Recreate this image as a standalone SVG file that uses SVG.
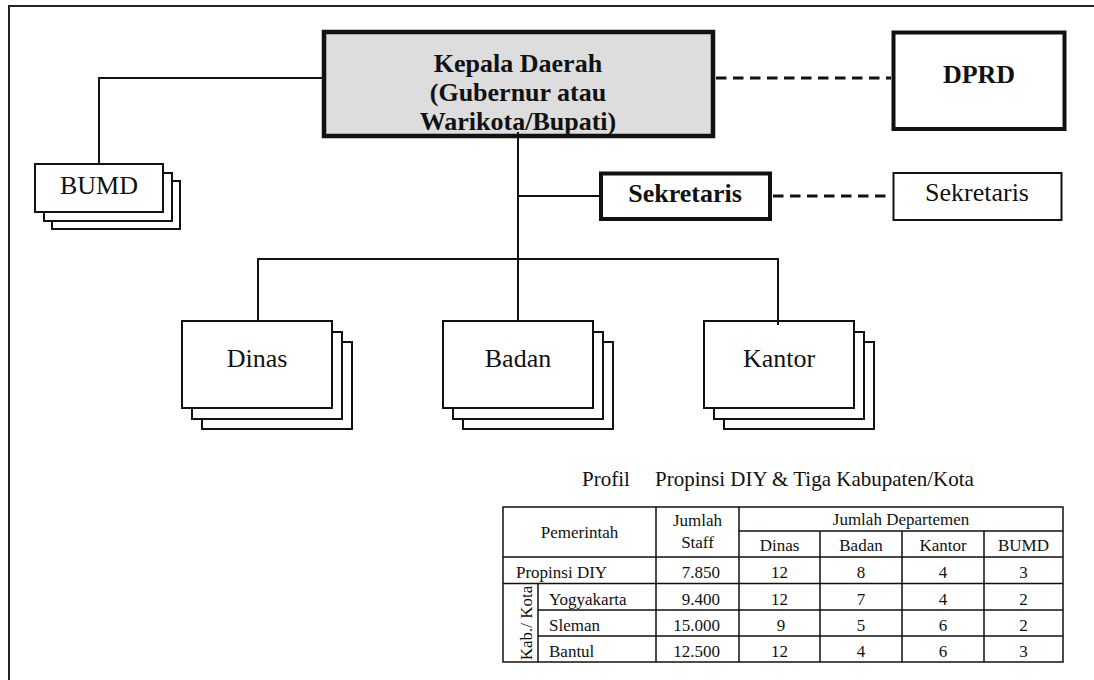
<svg xmlns="http://www.w3.org/2000/svg" width="1094" height="680" viewBox="0 0 1094 680">
<style>
text{font-family:"Liberation Serif","Times New Roman",serif;fill:#111}
.big{font-size:26px}
.b{font-weight:bold}
.mid{text-anchor:middle}
.end{text-anchor:end}
.t{font-size:17px}
.box{fill:#fff;stroke:#111;stroke-width:2}
.thick{fill:#fff;stroke:#111;stroke-width:4}
.ln{fill:none;stroke:#111;stroke-width:2}
.dash{fill:none;stroke:#111;stroke-width:3;stroke-dasharray:10.5 6.5}
.grid{fill:none;stroke:#111;stroke-width:1.5}
</style>
<rect x="9" y="6" width="1100" height="700" fill="#fff" stroke="#222" stroke-width="2"/>

<g id="kepala">
<rect x="324" y="32" width="389" height="104" fill="#dddddd" stroke="#111" stroke-width="4.5"/>
<text class="big b mid" x="518" y="72">Kepala Daerah</text>
<text class="big b mid" x="518" y="101">(Gubernur atau</text>
<text class="big b mid" x="518" y="130">Warikota/Bupati)</text>
</g>

<g id="dprd">
<rect class="thick" x="893.5" y="32.5" width="171" height="96.5"/>
<text class="big b mid" x="979" y="83">DPRD</text>
</g>

<g id="sekretaris-daerah">
<rect class="thick" x="601" y="173.5" width="169" height="45.5"/>
<text class="big b mid" x="685" y="202">Sekretaris</text>
</g>

<g id="sekretaris-dprd">
<rect class="box" x="893.5" y="173" width="168" height="47"/>
<text class="big mid" x="977" y="201">Sekretaris</text>
</g>

<g id="bumd">
<rect class="box" x="52" y="181" width="128" height="48"/>
<rect class="box" x="44" y="173" width="128" height="48"/>
<rect class="box" x="35" y="164" width="128" height="48"/>
<text class="big mid" x="99" y="194">BUMD</text>
</g>

<g id="dinas">
<rect class="box" x="202" y="342" width="150" height="87"/>
<rect class="box" x="192" y="332" width="150" height="87"/>
<rect class="box" x="182" y="321" width="150" height="87"/>
<text class="big mid" x="257" y="367">Dinas</text>
</g>

<g id="badan">
<rect class="box" x="463" y="342" width="150" height="87"/>
<rect class="box" x="453" y="332" width="150" height="87"/>
<rect class="box" x="443" y="321" width="150" height="87"/>
<text class="big mid" x="518" y="367">Badan</text>
</g>

<g id="kantor">
<rect class="box" x="724" y="342" width="150" height="87"/>
<rect class="box" x="714" y="332" width="150" height="87"/>
<rect class="box" x="704" y="321" width="150" height="87"/>
<text class="big mid" x="779" y="367">Kantor</text>
</g>

<g id="connectors">
<path class="ln" d="M99,164 V78 H322"/>
<path class="ln" d="M518,132 V321"/>
<path class="ln" d="M518,196 H599"/>
<path class="ln" d="M258,321 V259 H778 V325"/>
<path class="dash" d="M716,78 H891"/>
<path class="dash" d="M773,196 H892"/>
</g>

<g id="profil-table">
<text style="font-size:21px"><tspan x="582" y="486">Profil</tspan><tspan x="655" y="486">Propinsi DIY &amp; Tiga Kabupaten/Kota</tspan></text>
<rect class="grid" x="503" y="507" width="560" height="155" stroke-width="2"/>
<path class="grid" d="M739,531 H1063 M503,557 H1063 M503,583.5 H1063 M538,610 H1063 M538,636 H1063 M656,507 V662 M739,507 V662 M820,531 V662 M902,531 V662 M984,531 V662 M538,583.5 V662"/>
<text class="t mid" x="579.5" y="538">Pemerintah</text>
<text class="t mid" x="697.5" y="526">Jumlah</text>
<text class="t mid" x="697.5" y="548">Staff</text>
<text class="t mid" x="901" y="525">Jumlah Departemen</text>
<text class="t mid" x="779.5" y="551">Dinas</text>
<text class="t mid" x="861" y="551">Badan</text>
<text class="t mid" x="943" y="551">Kantor</text>
<text class="t mid" x="1023.5" y="551">BUMD</text>

<text class="t" x="516" y="578">Propinsi DIY</text>
<text class="t end" x="720" y="578">7.850</text>
<text class="t mid" x="779.5" y="578">12</text>
<text class="t mid" x="861" y="578">8</text>
<text class="t mid" x="943" y="578">4</text>
<text class="t mid" x="1023.5" y="578">3</text>

<text class="t mid" transform="translate(532,623) rotate(-90)" x="0" y="0">Kab./ Kota</text>

<text class="t" x="549" y="604.5">Yogyakarta</text>
<text class="t end" x="720" y="604.5">9.400</text>
<text class="t mid" x="779.5" y="604.5">12</text>
<text class="t mid" x="861" y="604.5">7</text>
<text class="t mid" x="943" y="604.5">4</text>
<text class="t mid" x="1023.5" y="604.5">2</text>

<text class="t" x="549" y="630.5">Sleman</text>
<text class="t end" x="720" y="630.5">15.000</text>
<text class="t mid" x="781" y="630.5">9</text>
<text class="t mid" x="861" y="630.5">5</text>
<text class="t mid" x="943" y="630.5">6</text>
<text class="t mid" x="1023.5" y="630.5">2</text>

<text class="t" x="549" y="656.5">Bantul</text>
<text class="t end" x="720" y="656.5">12.500</text>
<text class="t mid" x="779.5" y="656.5">12</text>
<text class="t mid" x="861" y="656.5">4</text>
<text class="t mid" x="943" y="656.5">6</text>
<text class="t mid" x="1023.5" y="656.5">3</text>
</g>
</svg>
